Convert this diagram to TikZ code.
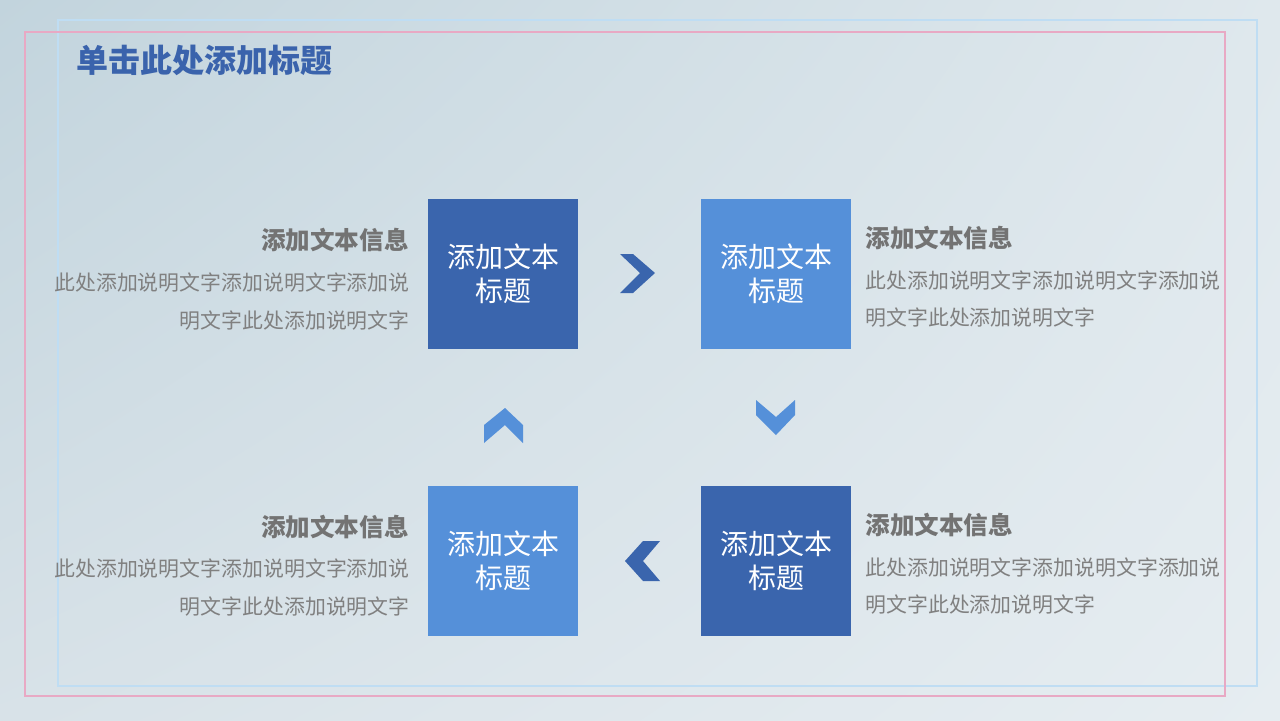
\documentclass[tikz,border=0pt]{standalone}
\usepackage{fontspec}
\usetikzlibrary{shadings}
\newfontfamily\cjk{Noto Sans CJK SC}
\definecolor{bgUL}{HTML}{C2D4DD}
\definecolor{bgUR}{HTML}{DFE8ED}
\definecolor{bgLL}{HTML}{D8E2E8}
\definecolor{bgLR}{HTML}{E6EDF1}
\definecolor{darkbox}{HTML}{3A65AD}
\definecolor{lightbox}{HTML}{5590D9}
\definecolor{headblue}{HTML}{3A63AC}
\definecolor{graytxt}{HTML}{808080}
\definecolor{graytitle}{HTML}{737373}
\definecolor{framepink}{HTML}{E8A9C4}
\definecolor{frameblue}{HTML}{BFDDF3}
\tikzset{
  boxnode/.style={minimum width=75pt, minimum height=75pt, inner sep=0pt, align=center, text=white,
    font=\cjk\fontsize{14pt}{17pt}\selectfont},
  infotitle/.style={inner sep=0pt, text=graytitle, font=\cjk\bfseries\fontsize{12.3pt}{14pt}\selectfont},
  infobody/.style={inner sep=0pt, text=graytxt, font=\cjk\fontsize{10.45pt}{12pt}\selectfont}
}
\begin{document}
\begin{tikzpicture}[x=0.5pt,y=-0.5pt]
\useasboundingbox (0,0) rectangle (1280,720);
\shade[upper left=bgUL, upper right=bgUR, lower left=bgLL, lower right=bgLR] (0,0) rectangle (1280,720);
% frames
\draw[frameblue, line width=1.2pt] (58,20) rectangle (1257,686);
\draw[framepink, line width=1.2pt] (25,32) rectangle (1225,696);
% heading
\node[anchor=base west, inner sep=0pt, text=headblue, font=\cjk\bfseries\fontsize{16pt}{18pt}\selectfont] (head) at (76,72) {单击此处添加标题};
% boxes
\node[boxnode, fill=darkbox] (b1) at (503,274) {添加文本\\标题};
\node[boxnode, fill=lightbox] (b2) at (776,274) {添加文本\\标题};
\node[boxnode, fill=lightbox] (b3) at (503,561) {添加文本\\标题};
\node[boxnode, fill=darkbox] (b4) at (776,561) {添加文本\\标题};
% chevrons
\fill[darkbox] (620,254) -- (633,254) -- (655,273) -- (633,293) -- (620,293) -- (640,273) -- cycle;
\fill[lightbox] (756,400) -- (776,417) -- (795,400) -- (795,415) -- (776,435) -- (756,415) -- cycle;
\fill[lightbox] (505,408) -- (523,425) -- (523,443) -- (505,425) -- (484,443) -- (484,425) -- cycle;
\fill[darkbox] (625,561) -- (643,541) -- (660,541) -- (643,561) -- (660,581) -- (643,581) -- cycle;
% left texts
\node[infotitle, anchor=base east] (t1) at (409,249) {添加文本信息};
\node[infobody, anchor=base east] (t1a) at (410,290) {此处添加说明文字添加说明文字添加说};
\node[infobody, anchor=base east] (t1b) at (410,328) {明文字此处添加说明文字};
\node[infotitle, anchor=base east] (t3) at (409,536) {添加文本信息};
\node[infobody, anchor=base east] (t3a) at (410,576) {此处添加说明文字添加说明文字添加说};
\node[infobody, anchor=base east] (t3b) at (410,614) {明文字此处添加说明文字};
% right texts
\node[infotitle, anchor=base west] (t2) at (865,247) {添加文本信息};
\node[infobody, anchor=base west] (t2a) at (865,288) {此处添加说明文字添加说明文字添加说};
\node[infobody, anchor=base west] (t2b) at (865,325) {明文字此处添加说明文字};
\node[infotitle, anchor=base west] (t4) at (865,534) {添加文本信息};
\node[infobody, anchor=base west] (t4a) at (865,575) {此处添加说明文字添加说明文字添加说};
\node[infobody, anchor=base west] (t4b) at (865,612) {明文字此处添加说明文字};
\end{tikzpicture}
\end{document}
